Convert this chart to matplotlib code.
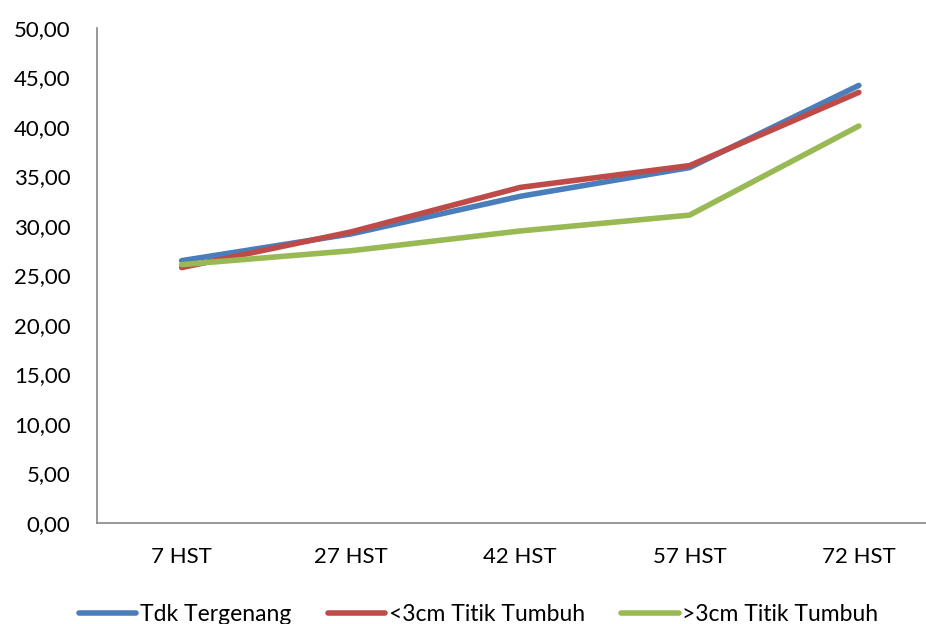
import matplotlib
matplotlib.use("Agg")
import matplotlib.pyplot as plt
from matplotlib.ticker import FuncFormatter

plt.rcParams["font.family"] = ["Lato", "DejaVu Sans"]

categories = ["7 HST", "27 HST", "42 HST", "57 HST", "72 HST"]
tdk_tergenang = [26.5, 29.2, 33.0, 35.9, 44.2]
kurang_3cm = [25.8, 29.4, 33.9, 36.1, 43.5]
lebih_3cm = [26.1, 27.5, 29.5, 31.1, 40.1]

BLUE, RED, GREEN = "#4A7EBB", "#BE4B48", "#98B954"
AXIS = "#868686"

fig = plt.figure(figsize=(9.26, 6.24), dpi=100)
ax = fig.add_axes([97 / 926, 101 / 624, 846.5 / 926, 495 / 624])
x = range(len(categories))
for vals, col, lab in ((tdk_tergenang, BLUE, "Tdk Tergenang"),
                       (kurang_3cm, RED, "<3cm Titik Tumbuh"),
                       (lebih_3cm, GREEN, ">3cm Titik Tumbuh")):
    ax.plot(x, vals, color=col, lw=4.0, solid_capstyle="round",
            solid_joinstyle="round", label=lab, clip_on=False)

ax.set_xlim(-0.5, 4.5)
ax.set_ylim(0, 50)
ax.set_yticks(range(0, 51, 5))
ax.yaxis.set_major_formatter(FuncFormatter(lambda v, _: f"{v:.2f}".replace(".", ",")))
ax.set_xticks(list(x))
ax.set_xticklabels(categories)
ax.tick_params(length=0, labelsize=16, colors="black")
ax.tick_params(axis="y", pad=19)
ax.tick_params(axis="x", pad=17)
for s in ("top", "right"):
    ax.spines[s].set_visible(False)
for s in ("left", "bottom"):
    ax.spines[s].set_color(AXIS)
    ax.spines[s].set_linewidth(1.2)

leg = fig.legend(loc="lower center", bbox_to_anchor=(0.517, -0.035), ncol=3, frameon=False,
                 prop={"size": 16.5}, handlelength=2.5, handletextpad=0.15, columnspacing=1.6)

fig.savefig("out.png", dpi=100)
